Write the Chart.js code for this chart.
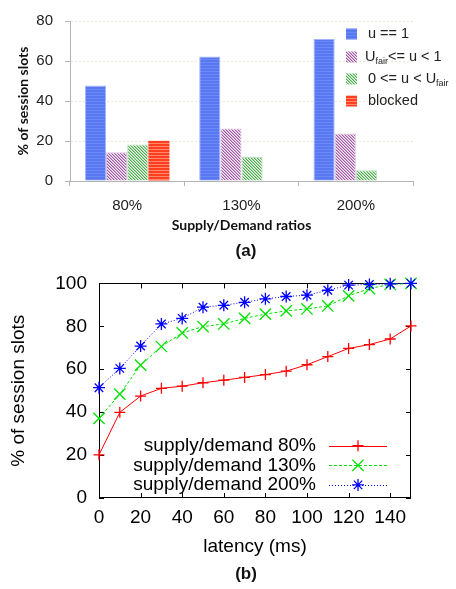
<!DOCTYPE html>
<html>
<head>
<meta charset="utf-8">
<script src="https://cdn.jsdelivr.net/npm/chart.js@4.4.1/dist/chart.umd.min.js"></script>
<style>
  html, body { margin: 0; padding: 0; background: #fff; }
  #wrap { position: relative; width: 456px; height: 589px; overflow: hidden; }
  #c1 { position: absolute; left: 0; top: 0; }
  #c2 { position: absolute; left: 0; top: 260px; }
  .cap { position: absolute; left: 196px; width: 100px; text-align: center;
         font: bold 17px "Liberation Sans", Arial, sans-serif; color: #111; }
</style>
</head>
<body>
<div id="wrap">
  <canvas id="c1" width="456" height="260"></canvas>
  <div class="cap" style="top:241px;">(a)</div>
  <canvas id="c2" width="456" height="329"></canvas>
  <div class="cap" style="top:564px;">(b)</div>
</div>
<script>
// (a) bar chart data
const ratioLabels = ['80%', '130%', '200%'];
const fullUtil = [47.7, 62.3, 71.0];
const fairUtil = [14.4, 26.2, 23.7];
const lowUtil = [18.2, 12.0, 5.4];
const blockedSlots = [20.1, 0, 0];
const barLabels = ['u == 1', 'U_fair<= u < 1', '0 <= u < U_fair', 'blocked'];
const barTicks = [0, 20, 40, 60, 80];

// (b) line chart data
const latency = [0, 10, 20, 30, 40, 50, 60, 70, 80, 90, 100, 110, 120, 130, 140, 150];
const sd80 = [20.1, 39.9, 47.5, 51.1, 52.1, 53.7, 54.9, 56.2, 57.5, 59.1, 62.1, 65.9, 69.7, 71.5, 74.1, 80.2];
const sd130 = [37.1, 48.4, 61.9, 70.6, 76.9, 79.9, 81.1, 83.7, 85.7, 87.2, 88.1, 89.5, 94.2, 97.6, 99.5, 100];
const sd200 = [51.4, 60.4, 70.8, 81.1, 83.7, 88.9, 89.8, 91.2, 92.8, 93.9, 94.5, 96.8, 99.2, 99.5, 99.8, 100];
const lineLabels = ['supply/demand 80%', 'supply/demand 130%', 'supply/demand 200%'];
const latencyTicks = [0, 20, 40, 60, 80, 100, 120, 140];
const pctTicks = [0, 20, 40, 60, 80, 100];

const SANS = '"Liberation Sans", Arial, sans-serif';
const TITLE = 'Lato, "Open Sans", sans-serif';

// tiny tile -> repeating fill; colour(x, y) returns null for the background
function makePattern(w, h, bg, colour) {
  const c = document.createElement('canvas');
  c.width = w; c.height = h;
  const g = c.getContext('2d');
  g.fillStyle = bg;
  g.fillRect(0, 0, w, h);
  for (let x = 0; x < w; x++)
    for (let y = 0; y < h; y++) {
      const col = colour(x, y);
      if (col) { g.fillStyle = col; g.fillRect(x, y, 1, 1); }
    }
  return g.createPattern(c, 'repeat');
}

const blueFill = makePattern(2, 3, '#5877f2', (x, y) => y === 2 ? '#6b8af6' : null);
const purpleFill = makePattern(3, 3, '#f6eef6', (x, y) => {
  const d = (x - y + 6) % 3;
  return d === 0 ? '#a458a8' : d === 1 ? '#d3aad5' : null;
});
const greenFill = makePattern(3, 3, '#f1faf1', (x, y) => {
  const d = (x - y + 6) % 3;
  return d === 0 ? '#4cae4c' : d === 1 ? '#a6daa6' : null;
});
const redFill = makePattern(1, 3, '#ff3d1f', (x, y) => y === 2 ? '#ff8a70' : null);
const barFills = [blueFill, purpleFill, greenFill, redFill];
const barEdges = ['#a3b4fa', '#dcc0dd', '#bde0bd', '#ff3d1f'];

function drawRich(ctx, text, x, y, size) {
  // "_fair" is drawn as a subscript
  const parts = text.split(/_(fair)/);
  let cx = x;
  parts.forEach((p, i) => {
    if (!p) return;
    const sub = i % 2 === 1;
    ctx.font = (sub ? size * 0.62 : size) + 'px ' + SANS;
    ctx.fillText(p, cx, sub ? y + size * 0.28 : y);
    cx += ctx.measureText(p).width;
  });
}

const barLegend = {
  id: 'barLegend',
  afterDraw(chart) {
    const { ctx, chartArea } = chart;
    const rowsY = [13, 36, 58, 80];
    ctx.save();
    ctx.textBaseline = 'middle';
    chart.data.datasets.forEach((ds, i) => {
      const y = chartArea.top + rowsY[i];
      const sx = chartArea.right - 67;
      ctx.fillStyle = barFills[i];
      ctx.fillRect(sx, y - 5.5, 11, 11);
      ctx.fillStyle = '#222';
      drawRich(ctx, ds.label, sx + (i === 1 ? 19 : 22), y, 14.5);
    });
    ctx.restore();
  }
};

new Chart(document.getElementById('c1'), {
  type: 'bar',
  data: {
    labels: ratioLabels,
    datasets: [fullUtil, fairUtil, lowUtil, blockedSlots].map((vals, i) => ({
      label: barLabels[i],
      data: vals,
      backgroundColor: barFills[i],
      borderColor: barEdges[i],
      borderWidth: i === 3 ? 0 : 1,
      categoryPercentage: 0.74,
      barPercentage: 1.0
    }))
  },
  options: {
    responsive: false,
    devicePixelRatio: 1,
    animation: false,
    layout: { padding: { top: 13, right: 43, left: 0, bottom: 0 } },
    plugins: { legend: { display: false }, tooltip: { enabled: false } },
    scales: {
      x: {
        afterFit(s) { s.height = 79; },
        grid: { drawOnChartArea: false, drawTicks: true, tickLength: 5, tickColor: '#b4b4b4', offset: true },
        border: { color: '#b4b4b4' },
        ticks: { color: '#222', font: { family: SANS, size: 15 }, padding: 11 },
        title: { display: true, text: 'Supply/Demand ratios', color: '#111',
                 font: { family: TITLE, size: 14, weight: 'bold' }, padding: { top: 0, bottom: 26 } }
      },
      y: {
        min: 0, max: 80,
        afterFit(s) { s.width = 70; },
        afterBuildTicks(s) { s.ticks = barTicks.map(v => ({ value: v })); },
        grid: { color: c => c.tick && c.tick.value === 0 ? 'rgba(0,0,0,0)' : '#ecebd2',
                tickColor: '#b4b4b4', tickLength: 5 },
        border: { color: '#b4b4b4', dash: [2, 2] },
        ticks: { color: '#222', font: { family: SANS, size: 15 }, padding: 12 },
        title: { display: true, text: '% of session slots', color: '#111',
                 font: { family: TITLE, size: 14, weight: 'bold' }, padding: { top: 15, bottom: 0 } }
      }
    }
  },
  plugins: [barLegend]
});

const frame = {
  id: 'frame',
  beforeDatasetsDraw(chart) {
    const { ctx, chartArea: a, scales } = chart;
    ctx.save();
    ctx.strokeStyle = '#000';
    ctx.lineWidth = 1;
    ctx.strokeRect(Math.round(a.left) + 0.5, Math.round(a.top) + 0.5,
                   Math.round(a.right - a.left) - 1, Math.round(a.bottom - a.top) - 1);
    ctx.beginPath();
    scales.x.ticks.forEach(t => {
      const x = Math.round(scales.x.getPixelForValue(t.value)) + 0.5;
      ctx.moveTo(x, a.bottom); ctx.lineTo(x, a.bottom - 5);
      ctx.moveTo(x, a.top); ctx.lineTo(x, a.top + 5);
    });
    scales.y.ticks.forEach(t => {
      const y = Math.round(scales.y.getPixelForValue(t.value)) + 0.5;
      ctx.moveTo(a.left, y); ctx.lineTo(a.left + 5, y);
      ctx.moveTo(a.right, y); ctx.lineTo(a.right - 5, y);
    });
    ctx.stroke();
    ctx.restore();
  }
};

const lineLegend = {
  id: 'lineLegend',
  afterDatasetsDraw(chart) {
    const { ctx, chartArea: a } = chart;
    ctx.save();
    ctx.font = '19px ' + SANS;
    ctx.textBaseline = 'middle';
    chart.data.datasets.forEach((ds, i) => {
      const y = a.bottom - 52.3 + i * 19.6;
      ctx.fillStyle = '#000';
      ctx.textAlign = 'right';
      ctx.fillText(ds.label, a.left + 217, y);
      ctx.strokeStyle = ds.borderColor;
      ctx.lineWidth = 1;
      ctx.setLineDash(ds.borderDash || []);
      ctx.beginPath();
      ctx.moveTo(a.left + 230, Math.round(y) + 0.5);
      ctx.lineTo(a.left + 288, Math.round(y) + 0.5);
      ctx.stroke();
      ctx.setLineDash([]);
      ctx.lineWidth = ds.pointBorderWidth;
      Chart.helpers.drawPoint(ctx, { pointStyle: ds.pointStyle, radius: ds.pointRadius,
        rotation: 0, borderWidth: ds.pointBorderWidth }, a.left + 259, y);
    });
    ctx.restore();
  }
};

const lineStyles = [
  { color: 'rgb(255,0,0)', dash: [], point: 'cross', r: 5.5 },
  { color: 'rgb(0,225,0)', dash: [3, 2], point: 'crossRot', r: 8 },
  { color: 'rgb(0,0,255)', dash: [1, 2], point: 'star', r: 6 }
];

new Chart(document.getElementById('c2'), {
  type: 'line',
  data: {
    datasets: [sd80, sd130, sd200].map((vals, i) => ({
      label: lineLabels[i],
      data: latency.map((x, j) => ({ x: x, y: vals[j] })),
      borderColor: lineStyles[i].color,
      borderWidth: 1,
      borderDash: lineStyles[i].dash,
      pointStyle: lineStyles[i].point,
      pointRadius: lineStyles[i].r,
      pointBorderWidth: 1.3,
      pointBorderColor: lineStyles[i].color,
      pointBackgroundColor: lineStyles[i].color,
      tension: 0,
      clip: false,
      order: 3 - i
    }))
  },
  options: {
    responsive: false,
    devicePixelRatio: 1,
    animation: false,
    layout: { padding: { top: 19, right: 45, left: 0, bottom: 0 } },
    plugins: { legend: { display: false }, tooltip: { enabled: false } },
    scales: {
      x: {
        type: 'linear', min: 0, max: 150,
        afterFit(s) { s.height = 91; },
        afterBuildTicks(s) { s.ticks = latencyTicks.map(v => ({ value: v })); },
        grid: { display: false, drawTicks: false },
        border: { display: false },
        ticks: { color: '#000', font: { family: SANS, size: 19 }, padding: 8, maxRotation: 0, autoSkip: false },
        title: { display: true, text: 'latency (ms)', color: '#000',
                 font: { family: SANS, size: 19 }, padding: { top: 0, bottom: 31 } }
      },
      y: {
        min: 0, max: 100,
        afterFit(s) { s.width = 99; },
        afterBuildTicks(s) { s.ticks = pctTicks.map(v => ({ value: v })); },
        grid: { display: false, drawTicks: false },
        border: { display: false },
        ticks: { color: '#000', font: { family: SANS, size: 19 }, padding: 12 },
        title: { display: true, text: '% of session slots', color: '#000',
                 font: { family: SANS, size: 19 }, padding: { top: 7, bottom: 0 } }
      }
    }
  },
  plugins: [frame, lineLegend]
});
</script>
</body>
</html>
